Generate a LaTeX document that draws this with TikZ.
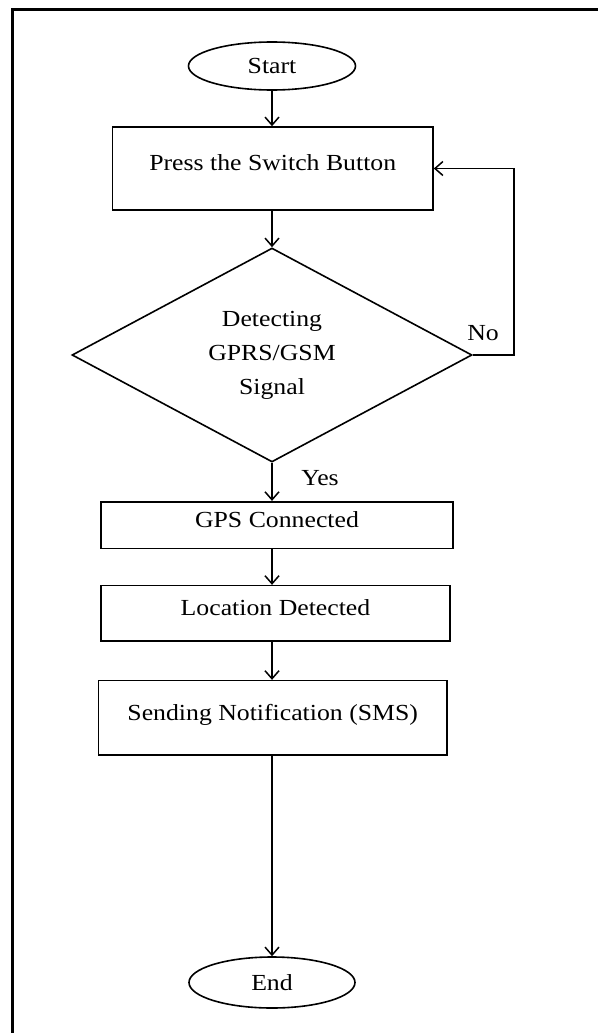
\documentclass[tikz,border=0pt]{standalone}
\usepackage{fontspec}
\setmainfont[FakeStretch=1.12]{Liberation Serif}
\usetikzlibrary{arrows.meta,shapes.geometric}
\tikzset{
  >={Straight Barb[length=4pt,width=7pt]},
  flow/.style={->,line width=0.75pt},
  termnode/.style={ellipse,draw,line width=0.8pt,inner sep=0pt,
    minimum width=83.5pt,minimum height=24pt,font=\fontsize{11.5}{17}\selectfont},
  procbox/.style={rectangle,draw,line width=0.8pt,inner sep=0pt,
    text height=10pt,text depth=7.8pt,font=\fontsize{11.5}{17}\selectfont},
  decbox/.style={diamond,draw,line width=0.8pt,inner sep=0pt,aspect=2,
    minimum width=200pt,minimum height=107pt,align=center,
    font=\fontsize{11.5}{17}\selectfont},
  edgelbl/.style={font=\fontsize{11.5}{17}\selectfont,inner sep=0pt},
}
\begin{document}
\begin{tikzpicture}[x=0.5pt,y=-0.5pt]
  \useasboundingbox (0,0) rectangle (598,1033);
  % outer frame
  \draw[line width=1.5pt] (12.5,1033) |- (598,9);

  \node[termnode] (start) at (272,66) {Start};
  \node[procbox,minimum width=160.25pt,minimum height=41.5pt] (press) at (272.75,168.5)
    {Press the Switch Button};
  \node[decbox] (signal) at (272,355) {Detecting\\GPRS/GSM\\Signal};
  \node[procbox,minimum width=176pt,minimum height=23.3pt] (gps) at (277,525)
    {GPS Connected};
  \node[procbox,minimum width=174.5pt,minimum height=27.65pt] (loc) at (275.5,613.3)
    {Location Detected};
  \node[procbox,minimum width=174.3pt,minimum height=37.15pt] (sms) at (272.7,717.8)
    {Sending Notification (SMS)};
  \node[termnode,minimum width=83pt,minimum height=25.5pt] (finish) at (272,982.5) {End};

  \node[edgelbl] (no) at (483,333) {No};
  \node[edgelbl] (yes) at (320,478) {Yes};

  \draw[flow] (start.south) -- (start.south |- press.north);
  \draw[flow] (signal.north |- press.south) -- (signal.north);
  \draw[flow] (signal.south) -- (signal.south |- gps.north);
  \draw[flow] (signal.south |- gps.south) -- (signal.south |- loc.north);
  \draw[flow] (signal.south |- loc.south) -- (signal.south |- sms.north);
  \draw[flow] (signal.south |- sms.south) -- (finish.north);
  \draw[flow] (signal.east) -- ++(41,0) |- (press.east);
\end{tikzpicture}
\end{document}
